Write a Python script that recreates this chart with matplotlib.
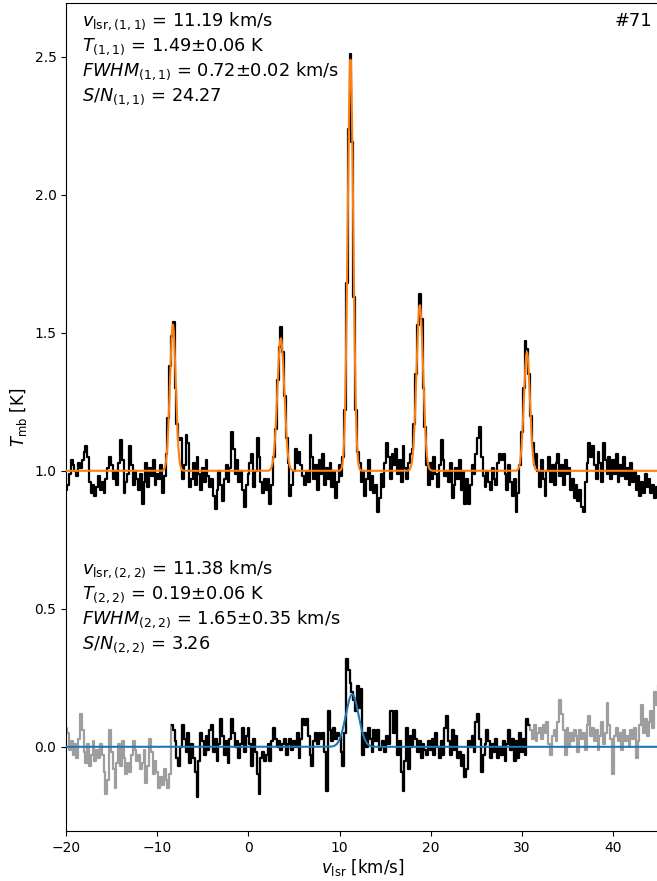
import numpy as np
import matplotlib
matplotlib.use("Agg")
import matplotlib.pyplot as plt

# Velocity grid of the spectra (km/s), 0.2 km/s channels
v_start, v_step, n_chan = -20.0, 0.2, 326

# NH3 (1,1) main-beam temperature, offset by +1 K
t11 = [
    0.93, 0.95, 0.99, 1.04, 1.02, 1.00, 0.98, 1.03, 1.01, 1.04,
    1.07, 1.09, 1.05, 0.96, 0.92, 0.95, 0.91, 0.94, 0.98, 0.93,
    0.96, 0.92, 0.97, 1.01, 1.05, 1.02, 0.97, 1.00, 0.95, 1.03,
    1.11, 1.04, 0.92, 0.96, 0.99, 1.09, 1.02, 0.95, 1.00, 0.97,
    0.93, 0.99, 0.88, 0.96, 1.03, 0.94, 1.01, 0.98, 1.04, 0.95,
    0.99, 0.97, 1.02, 0.92, 0.98, 1.06, 1.19, 1.38, 1.49, 1.54,
    1.30, 1.17, 1.11, 1.12, 0.97, 1.02, 1.13, 1.10, 0.94, 0.97,
    1.03, 0.95, 1.05, 0.99, 0.93, 1.01, 0.96, 1.04, 0.98, 0.94,
    0.97, 0.91, 0.86, 0.93, 1.00, 0.95, 0.89, 0.97, 1.02, 0.96,
    1.01, 1.14, 1.08, 0.99, 1.04, 0.96, 1.00, 0.93, 0.87, 0.95,
    0.99, 1.03, 1.06, 0.94, 1.00, 1.12, 1.05, 0.96, 0.92, 0.97,
    0.93, 0.97, 0.88, 0.95, 1.05, 1.15, 1.33, 1.45, 1.52, 1.43,
    1.27, 1.12, 1.03, 0.91, 0.95, 1.00, 1.08, 1.03, 1.07, 1.02,
    0.98, 0.95, 1.00, 0.96, 1.13, 1.05, 0.97, 1.02, 0.93, 1.04,
    0.99, 1.06, 0.95, 1.01, 0.97, 1.03, 0.94, 1.00, 0.90, 0.96,
    1.02, 0.98, 1.05, 1.22, 1.68, 2.24, 2.51, 2.19, 1.63, 1.22,
    1.07, 1.03, 0.96, 1.00, 0.91, 0.97, 1.04, 0.93, 0.98, 0.92,
    0.95, 0.85, 0.90, 0.99, 0.94, 1.03, 1.10, 1.05, 0.97, 1.06,
    1.02, 1.08, 0.99, 1.04, 0.96, 1.09, 1.01, 0.97, 1.03, 1.06,
    1.08, 1.17, 1.35, 1.53, 1.64, 1.55, 1.30, 1.16, 1.02, 0.95,
    1.03, 0.97, 1.05, 0.99, 0.94, 1.02, 1.11, 1.04, 0.98, 1.00,
    0.96, 1.03, 0.90, 0.95, 1.01, 0.97, 1.04, 0.93, 1.00, 0.88,
    0.97, 0.88, 0.95, 1.02, 0.99, 1.06, 1.12, 1.16, 1.05, 0.98,
    0.94, 1.00, 0.96, 0.93, 1.01, 0.97, 0.95, 1.03, 1.06, 1.04,
    1.06, 0.99, 0.93, 1.02, 0.96, 0.91, 0.97, 0.85, 0.92, 1.02,
    1.14, 1.30, 1.47, 1.44, 1.35, 1.20, 1.10, 1.02, 1.06, 1.00,
    0.94, 1.04, 0.97, 0.91, 1.00, 1.05, 0.96, 1.02, 0.95, 1.03,
    1.06, 0.98, 1.02, 0.95, 1.04, 0.99, 1.01, 0.93, 0.97, 0.90,
    0.95, 0.89, 0.93, 0.87, 0.85, 0.96, 1.03, 1.10, 1.05, 1.09,
    1.02, 0.97, 1.07, 1.03, 0.96, 1.10, 1.04, 0.99, 1.05, 0.97,
    1.04, 0.99, 1.06, 0.96, 1.02, 0.98, 1.05, 0.97, 1.01, 0.95,
    1.03, 0.96, 1.00, 0.93, 0.98, 0.91, 0.96, 0.92, 0.99, 0.94,
    0.97, 0.92, 0.95, 0.90, 0.94, 0.93,
]

# NH3 (2,2) main-beam temperature
t22 = [
    0.07, 0.05, -0.01, 0.02, -0.03, 0.01, -0.04, 0.03, 0.12, 0.06,
    -0.02, -0.06, 0.01, -0.07, -0.03, 0.02, -0.05, -0.01, -0.04, 0.01,
    -0.03, -0.09, -0.17, -0.12, 0.06, -0.02, -0.08, -0.15, -0.06, 0.01,
    -0.07, 0.02, -0.04, -0.10, -0.06, -0.09, -0.03, 0.02, -0.01, -0.05,
    -0.03, -0.08, -0.06, -0.01, -0.13, -0.07, 0.03, -0.02, -0.10, -0.05,
    -0.09, -0.15, -0.11, -0.14, -0.08, -0.12, -0.15, -0.10, 0.08, 0.06,
    0.02, -0.04, -0.07, 0.00, 0.08, 0.03, -0.02, 0.05, -0.06, 0.01,
    -0.04, -0.09, -0.18, -0.05, 0.05, 0.02, -0.03, 0.04, -0.01, 0.06,
    0.08, -0.02, 0.03, -0.05, 0.01, 0.10, 0.04, -0.03, 0.02, -0.06,
    0.03, 0.10, 0.05, 0.00, 0.02, -0.04, 0.01, 0.07, -0.02, 0.04,
    0.07, 0.01, -0.07, 0.03, -0.02, -0.10, -0.17, -0.04, -0.02, -0.05,
    -0.03, 0.01, -0.05, 0.02, 0.07, 0.03, 0.00, 0.02, -0.01, 0.01,
    0.03, -0.03, 0.01, 0.03, -0.01, 0.02, 0.00, 0.05, -0.04, 0.03,
    0.10, 0.08, 0.10, 0.04, -0.03, -0.07, 0.02, 0.05, 0.01, 0.05,
    0.03, 0.05, -0.02, -0.16, 0.13, 0.06, 0.02, 0.07, 0.03, 0.05,
    0.04, -0.02, -0.07, 0.05, 0.32, 0.28, 0.23, 0.20, 0.17, 0.13,
    0.22, 0.14, 0.21, -0.03, 0.05, 0.00, 0.07, 0.03, -0.02, 0.06,
    0.02, 0.06, -0.01, 0.00, 0.02, -0.02, 0.04, 0.01, 0.13, 0.13,
    0.05, 0.13, -0.03, 0.02, -0.09, -0.16, -0.05, 0.07, -0.08, 0.04,
    0.00, 0.06, 0.03, -0.02, 0.02, -0.04, 0.01, -0.01, -0.03, 0.02,
    -0.01, 0.03, -0.03, 0.05, 0.00, -0.04, 0.02, -0.03, 0.07, 0.11,
    0.02, -0.03, 0.06, -0.01, 0.04, -0.04, -0.02, -0.07, -0.03, -0.11,
    -0.08, 0.02, 0.00, 0.04, -0.02, 0.09, 0.12, 0.03, -0.09, -0.03,
    0.01, 0.06, 0.02, -0.04, 0.01, -0.02, 0.03, -0.04, 0.00, -0.03,
    0.02, -0.05, 0.01, 0.06, -0.01, 0.03, -0.05, 0.02, -0.04, 0.05,
    -0.02, 0.03, -0.03, 0.10, 0.08, 0.06, 0.03, 0.08, 0.02, 0.05,
    0.07, 0.03, 0.08, 0.05, 0.09, 0.01, -0.03, 0.04, 0.06, 0.02,
    0.09, 0.17, 0.12, 0.06, -0.03, 0.07, 0.00, 0.05, 0.02, 0.06,
    0.04, -0.02, 0.06, 0.03, 0.05, -0.01, 0.08, 0.11, 0.04, 0.07,
    0.02, 0.06, -0.01, 0.04, 0.09, 0.01, 0.05, 0.16, 0.08, 0.03,
    -0.10, 0.04, 0.07, 0.02, 0.05, -0.01, 0.06, 0.02, 0.04, 0.00,
    0.06, 0.03, 0.07, -0.04, 0.02, 0.08, 0.15, 0.05, 0.10, 0.04,
    0.09, 0.13, 0.07, 0.20, 0.15, 0.22,
]

# Velocity window used for the (2,2) fit (km/s)
fit_window = (-8.5, 30.9)

# Hyperfine-group Gaussian components of the (1,1) fit
hf_centers = [-8.30, 3.55, 11.19, 18.80, 30.55]
hf_amps = [0.53, 0.48, 1.49, 0.60, 0.43]
hf_sigmas = [0.32, 0.38, 0.306, 0.36, 0.33]
base11 = 1.0

# (2,2) Gaussian fit
g22_center, g22_amp, g22_fwhm = 11.38, 0.19, 1.65

labels11 = [
    r"$v_{\rm lsr,(1,1)}$ = 11.19 km/s",
    r"$T_{(1,1)}$ = 1.49$\pm$0.06 K",
    r"$FWHM_{(1,1)}$ = 0.72$\pm$0.02 km/s",
    r"$S/N_{(1,1)}$ = 24.27",
]
labels22 = [
    r"$v_{\rm lsr,(2,2)}$ = 11.38 km/s",
    r"$T_{(2,2)}$ = 0.19$\pm$0.06 K",
    r"$FWHM_{(2,2)}$ = 1.65$\pm$0.35 km/s",
    r"$S/N_{(2,2)}$ = 3.26",
]
source_id = "#71"

vel = v_start + v_step * np.arange(n_chan)
t11 = np.array(t11)
t22 = np.array(t22)

vfine = np.linspace(-20, 45, 3000)
model11 = np.full_like(vfine, base11)
for c, a, s in zip(hf_centers, hf_amps, hf_sigmas):
    model11 += a * np.exp(-0.5 * ((vfine - c) / s) ** 2)
s22 = g22_fwhm / (2 * np.sqrt(2 * np.log(2)))
model22 = g22_amp * np.exp(-0.5 * ((vfine - g22_center) / s22) ** 2)

W, H = 657, 881
AX_L, AX_B, AX_W, AX_H = 66.2, 50, 592.4, 828
fig = plt.figure(figsize=(W / 100, H / 100), dpi=100)
ax = fig.add_axes([AX_L / W, AX_B / H, AX_W / W, AX_H / H])

ax.plot(vel, t11, drawstyle="steps-mid", color="black", lw=1.6, zorder=2)
ax.plot(vfine, model11, color="#ff7f0e", lw=1.5, zorder=3)

ax.plot(vel, t22, drawstyle="steps-mid", color="0.62", lw=1.6, zorder=1)
win = (vel >= fit_window[0]) & (vel <= fit_window[1])
ax.plot(vel[win], t22[win], drawstyle="steps-mid", color="black", lw=1.6, zorder=2)
ax.plot(vfine, model22, color="#1f77b4", lw=1.5, zorder=3)

ax.set_xlim(-20, 45)
ax.set_ylim(-0.305, 2.695)
ax.set_xticks([-20, -10, 0, 10, 20, 30, 40])
ax.set_yticks([0.0, 0.5, 1.0, 1.5, 2.0, 2.5])
ax.tick_params(labelsize=10)
ax.set_xlabel(r"$v_{\rm lsr}$ [km/s]", fontsize=12, labelpad=2)
ax.set_ylabel(r"$T_{\rm mb}$ [K]", fontsize=12, labelpad=4)

def px_to_axes(xp, yp):
    return (xp - AX_L) / AX_W, (AX_H + 3 - yp) / AX_H

for i, s in enumerate(labels11):
    x, y = px_to_axes(82, 26 + 25 * i)
    ax.text(x, y, s, transform=ax.transAxes, fontsize=12.8, va="baseline", ha="left")
for i, s in enumerate(labels22):
    x, y = px_to_axes(82, 574 + 25 * i)
    ax.text(x, y, s, transform=ax.transAxes, fontsize=12.8, va="baseline", ha="left")
x, y = px_to_axes(652, 26)
ax.text(x, y, source_id, transform=ax.transAxes, fontsize=12.8, va="baseline", ha="right")

fig.savefig("out.png", dpi=100)
